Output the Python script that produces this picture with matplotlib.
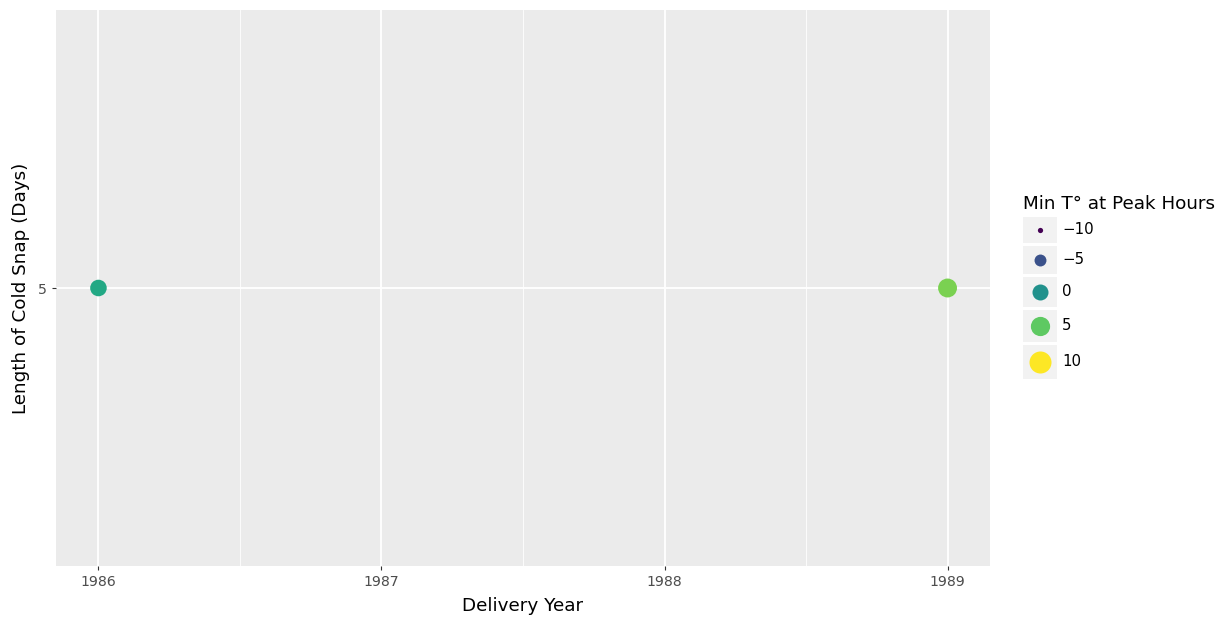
import matplotlib
matplotlib.use("Agg")
import matplotlib.pyplot as plt
import numpy as np
from matplotlib.patches import Rectangle
from matplotlib import colors

# Data
years = [1986, 1989]
lengths = [5, 5]
min_temps = [2, 6]
legend_values = [-10, -5, 0, 5, 10]
legend_labels = ["\u221210", "\u22125", "0", "5", "10"]
x_ticks = [1986, 1987, 1988, 1989]
y_ticks = [5]

vmin, vmax = -10, 10
norm = colors.Normalize(vmin, vmax)
cmap = plt.get_cmap("viridis")

def diam_px(v):
    return np.sqrt(25 + 20.8 * (v - vmin))

def s_pts(v):
    return (0.72 * diam_px(v)) ** 2

W, H = 1225, 617
fig = plt.figure(figsize=(W / 100, H / 100), dpi=100)
ax = fig.add_axes([56 / W, 1 - 566 / H, (990 - 56) / W, (566 - 10) / H])
ax.set_facecolor("#ebebeb")
for sp in ax.spines.values():
    sp.set_visible(False)

ax.set_xlim(1986 - 0.15, 1989 + 0.15)
ax.set_ylim(4.45, 5.55)
ax.set_xticks(x_ticks)
ax.set_xticks([1986.5, 1987.5, 1988.5], minor=True)
ax.set_yticks(y_ticks)
ax.grid(True, which="major", color="white", linewidth=1.3)
ax.grid(True, which="minor", axis="x", color="white", linewidth=0.6)
ax.set_axisbelow(True)
ax.tick_params(axis="both", which="major", length=3, color="#333333",
               labelcolor="#4d4d4d", labelsize=10.2, width=0.8)
ax.tick_params(axis="both", which="minor", length=0)

ax.scatter(years, lengths, c=[cmap(norm(v)) for v in min_temps],
           s=[s_pts(v) for v in min_temps], linewidths=0, zorder=3)

ax.set_xlabel("Delivery Year", fontsize=13.2, color="black", labelpad=6)
ax.set_ylabel("Length of Cold Snap (Days)", fontsize=13.2, color="black", labelpad=6)

# Legend drawn in pixel coordinates
lax = fig.add_axes([0, 0, 1, 1])
lax.set_xlim(0, W)
lax.set_ylim(H, 0)
lax.axis("off")
lax.text(1023, 204, "Min T\u00b0 at Peak Hours", fontsize=13.2, va="center", ha="left")
y = 217
for v, lab in zip(legend_values, legend_labels):
    h = 26 + (v - vmin) / (vmax - vmin) * 8
    lax.add_patch(Rectangle((1023, y), 34, h, facecolor="#f2f2f2", edgecolor="none"))
    cy = y + h / 2
    lax.scatter([1040], [cy], s=s_pts(v) * 1.1, color=cmap(norm(v)), linewidths=0)
    lax.text(1062, cy, lab, fontsize=10.8, va="center", ha="left", color="black")
    y += h + 3

fig.savefig("out.png", dpi=100)
